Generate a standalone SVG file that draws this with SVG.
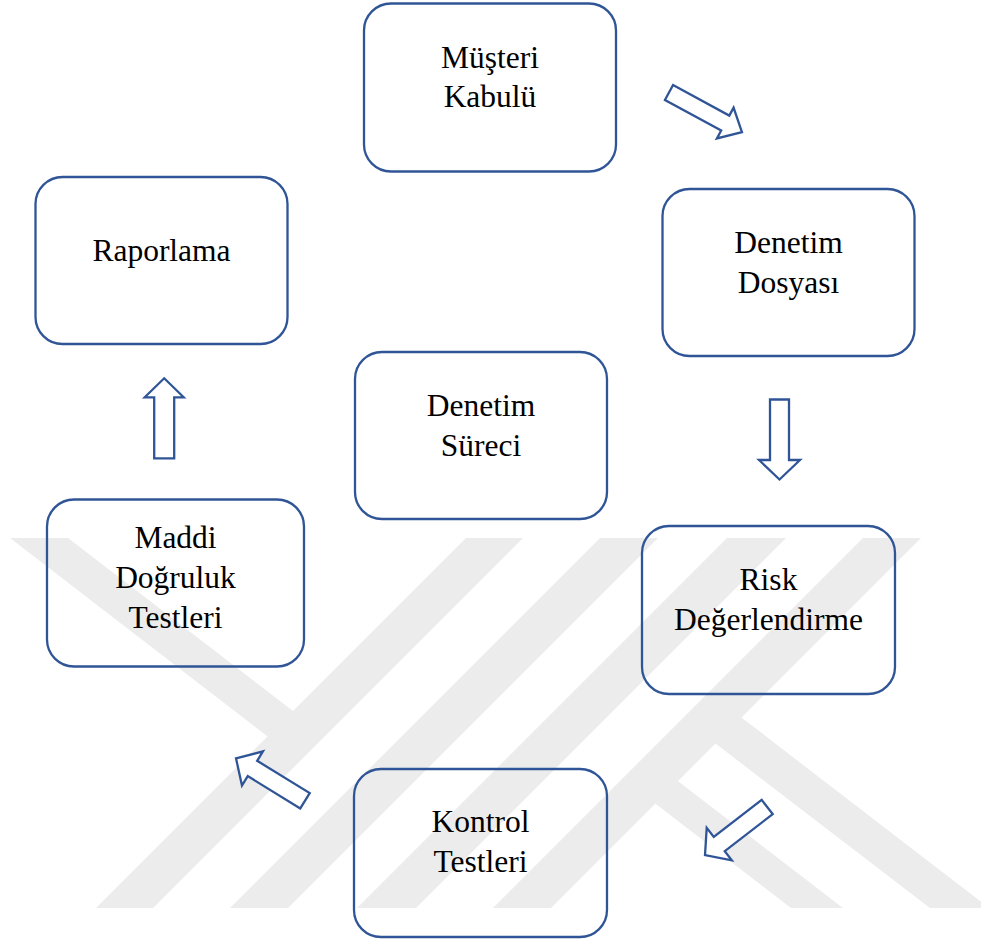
<svg xmlns="http://www.w3.org/2000/svg" width="981" height="942" viewBox="0 0 981 942">
  <style>
    .box { fill: none; stroke: #2F5597; stroke-width: 2.3; }
    .lbl { font-family: "Liberation Serif", "Times New Roman", serif; font-size: 31.5px; fill: #000; text-anchor: middle; }
    .arrow { fill: #fff; stroke: #2F5597; stroke-width: 2.3; stroke-linejoin: miter; }
    .wm { fill: #ececec; stroke: none; }
  </style>

  <rect width="981" height="942" fill="#fff"/>

  <!-- background watermark: diagonal stripes -->
  <g id="watermark">
    <polygon class="wm" points="466,538 523,538 153,908 96,908"/>
    <polygon class="wm" points="600,538 658,538 288,908 230,908"/>
    <polygon class="wm" points="727,538 786,538 416,908 357,908"/>
    <polygon class="wm" points="863,538 921,538 551,908 493,908"/>
    <polygon class="wm" points="10,538 68,538 306,721 284,749"/>
    <polygon class="wm" points="661.5,768.4 843,908 791,908 639,791"/>
    <polygon class="wm" points="733,711 989,908 930,908 707,737"/>
  </g>

  <!-- process steps -->
  <g id="musteri-kabulu">
    <rect class="box" x="364" y="3.5" width="252" height="168" rx="27"/>
    <text class="lbl" x="490" y="67.5">Müşteri</text>
    <text class="lbl" x="490" y="107">Kabulü</text>
  </g>
  <g id="denetim-dosyasi">
    <rect class="box" x="662.5" y="189" width="252" height="167" rx="27"/>
    <text class="lbl" x="788.5" y="253">Denetim</text>
    <text class="lbl" x="788.5" y="293">Dosyası</text>
  </g>
  <g id="risk-degerlendirme">
    <rect class="box" x="642" y="526" width="253" height="168" rx="27"/>
    <text class="lbl" x="768.5" y="590">Risk</text>
    <text class="lbl" x="768.5" y="630">Değerlendirme</text>
  </g>
  <g id="kontrol-testleri">
    <rect class="box" x="354" y="769" width="253" height="168" rx="27"/>
    <text class="lbl" x="480.5" y="832">Kontrol</text>
    <text class="lbl" x="480.5" y="872">Testleri</text>
  </g>
  <g id="maddi-dogruluk-testleri">
    <rect class="box" x="47" y="499.5" width="257" height="167" rx="27"/>
    <text class="lbl" x="175.5" y="548">Maddi</text>
    <text class="lbl" x="175.5" y="588">Doğruluk</text>
    <text class="lbl" x="175.5" y="628">Testleri</text>
  </g>
  <g id="raporlama">
    <rect class="box" x="35.5" y="177" width="252" height="167" rx="27"/>
    <text class="lbl" x="161.5" y="261">Raporlama</text>
  </g>
  <g id="denetim-sureci">
    <rect class="box" x="355" y="352" width="252" height="167" rx="27"/>
    <text class="lbl" x="481" y="416">Denetim</text>
    <text class="lbl" x="481" y="456">Süreci</text>
  </g>

  <!-- block arrows between steps -->
  <g id="connectors">
    <polygon class="arrow" transform="translate(669,92.5) rotate(28.5)" points="0,-8.5 64,-8.5 64,-17.5 83,0 64,17.5 64,8.5 0,8.5"/>
    <polygon class="arrow" transform="translate(779.5,399.5) rotate(90)" points="0,-9.5 60.5,-9.5 60.5,-20.5 80,0 60.5,20.5 60.5,9.5 0,9.5"/>
    <polygon class="arrow" transform="translate(767.2,807) rotate(142.3)" points="0,-9 60.6,-9 60.6,-20.5 78.6,0 60.6,20.5 60.6,9 0,9"/>
    <polygon class="arrow" transform="translate(305,800.8) rotate(211.6)" points="0,-9 61.7,-9 61.7,-20 81,0 61.7,20 61.7,9 0,9"/>
    <polygon class="arrow" transform="translate(164.2,458.3) rotate(-90)" points="0,-10 61,-10 61,-19.5 80,0 61,19.5 61,10 0,10"/>
  </g>
</svg>
